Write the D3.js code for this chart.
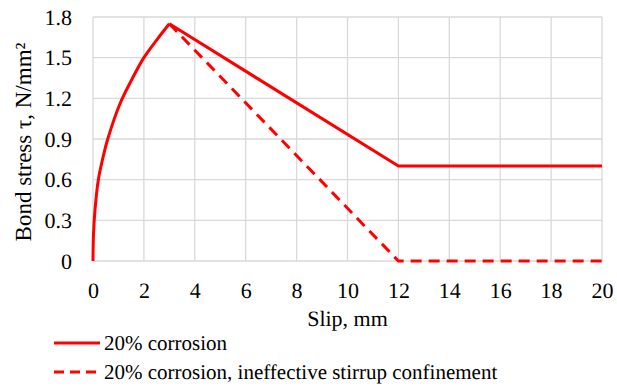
<!DOCTYPE html>
<html>
<head>
<meta charset="utf-8">
<script src="https://cdn.jsdelivr.net/npm/d3@7"></script>
<style>
  body { margin: 0; background: #fff; }
  svg text { font-family: "Liberation Serif", "Times New Roman", serif; fill: #000; text-rendering: geometricPrecision; }
</style>
</head>
<body>
<svg id="chart" width="617" height="391"></svg>
<script>
// slip (mm) / bond stress (N/mm2)
const ascSlip   = [0, 0.02, 0.08, 0.21, 0.4, 0.58, 1.06, 1.5, 2.0, 2.5, 3];
const ascStress = [0, 0.2, 0.38, 0.6, 0.77, 0.9, 1.16, 1.33, 1.5, 1.63, 1.75];
const corrSlip   = [3, 12, 20];
const corrStress = [1.75, 0.7, 0.7];
const ineffSlip   = [3, 12, 20];
const ineffStress = [1.75, 0, 0];
const xTicks = [0, 2, 4, 6, 8, 10, 12, 14, 16, 18, 20];
const yTicks = [0, 0.3, 0.6, 0.9, 1.2, 1.5, 1.8];
const seriesNames = ["20% corrosion", "20% corrosion, ineffective stirrup confinement"];

const svg = d3.select("#chart");
const margin = {left: 93, right: 15, top: 17, bottom: 130};
const width = 617 - margin.left - margin.right, height = 391 - margin.top - margin.bottom;
const g = svg.append("g").attr("transform", `translate(${margin.left},${margin.top})`);

const x = d3.scaleLinear().domain([0, 20]).range([0, width]);
const y = d3.scaleLinear().domain([0, 1.8]).range([height, 0]);

// grid
g.append("g").selectAll("line").data(xTicks).join("line")
  .attr("x1", d => x(d)).attr("x2", d => x(d)).attr("y1", 0).attr("y2", height)
  .attr("stroke", "#d9d9d9").attr("stroke-width", 1.3);
g.append("g").selectAll("line").data(yTicks).join("line")
  .attr("x1", 0).attr("x2", width).attr("y1", d => y(d)).attr("y2", d => y(d))
  .attr("stroke", "#d9d9d9").attr("stroke-width", 1.3);

// axes (labels only)
const xAxis = g.append("g").attr("transform", `translate(0,${height})`)
  .call(d3.axisBottom(x).tickValues(xTicks).tickSize(0).tickPadding(21).tickFormat(d3.format("d")));
const yAxis = g.append("g")
  .call(d3.axisLeft(y).tickValues(yTicks).tickSize(0).tickPadding(21).tickFormat(d => d === 0 ? "0" : d3.format(".1f")(d)));
[xAxis, yAxis].forEach(a => {
  a.attr("font-family", null).attr("font-size", null);
  a.select(".domain").remove();
  a.selectAll("text").style("font-size", "22px");
});

// lines
const line = d3.line().x(d => x(d[0])).y(d => y(d[1]));
g.append("path").datum(d3.zip(ineffSlip, ineffStress))
  .attr("d", line).attr("fill", "none").attr("stroke", "#ff0000")
  .attr("stroke-width", 3).attr("stroke-dasharray", "11,7");
g.append("path").datum(d3.zip(ascSlip, ascStress))
  .attr("d", line.curve(d3.curveCatmullRom.alpha(0.5))).attr("fill", "none").attr("stroke", "#ff0000")
  .attr("stroke-width", 3);
line.curve(d3.curveLinear);
g.append("path").datum(d3.zip(corrSlip, corrStress))
  .attr("d", line).attr("fill", "none").attr("stroke", "#ff0000")
  .attr("stroke-width", 3);

// axis titles
svg.append("text").attr("x", margin.left + width / 2).attr("y", 326)
  .attr("text-anchor", "middle").style("font-size", "22px").text("Slip, mm");
svg.append("text").attr("transform", `translate(31,${margin.top + height / 2 + 3}) rotate(-90)`)
  .attr("text-anchor", "middle").style("font-size", "23px")
  .text("Bond stress τ, N/mm²");

// legend
const leg = svg.append("g").attr("transform", "translate(54,343)");
seriesNames.forEach((name, i) => {
  const row = leg.append("g").attr("transform", `translate(0,${i * 29})`);
  row.append("line").attr("x1", 0).attr("x2", 46).attr("y1", 0).attr("y2", 0)
    .attr("stroke", "#ff0000").attr("stroke-width", 3)
    .attr("stroke-dasharray", i === 1 ? "10,6" : null);
  row.append("text").attr("x", 50).attr("y", 7)
    .style("font-size", "21px").text(name);
});
</script>
</body>
</html>
